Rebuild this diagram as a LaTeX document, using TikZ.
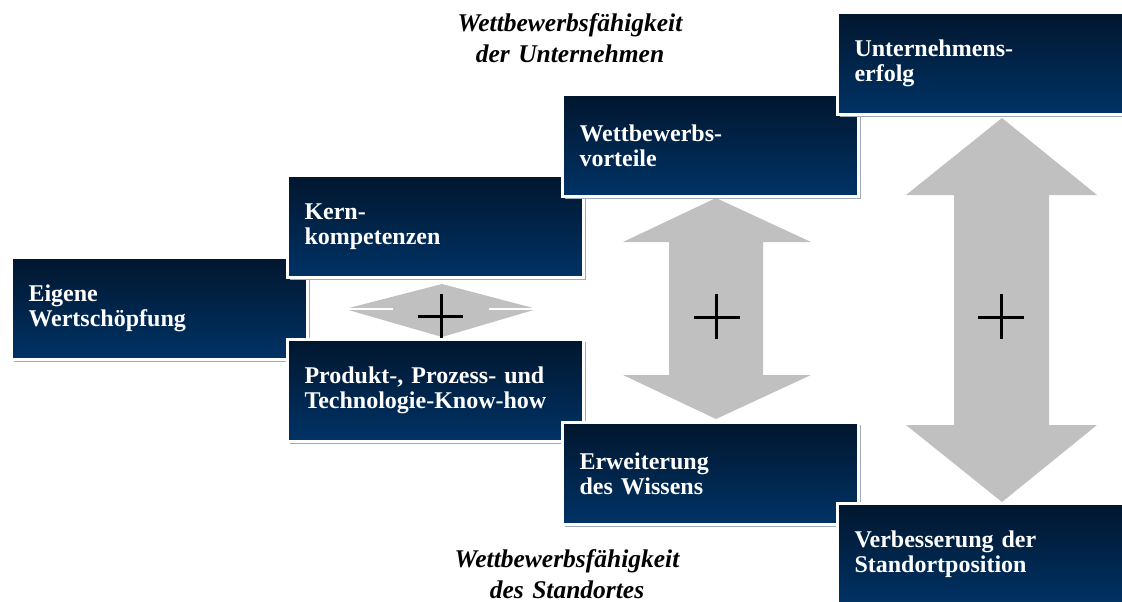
\documentclass[tikz,border=0pt]{standalone}
\usepackage{fontspec}
\setmainfont{Liberation Serif}
\usetikzlibrary{shadows}
\definecolor{navytop}{RGB}{1,22,46}
\definecolor{navybot}{RGB}{0,51,102}
\definecolor{edgegray}{RGB}{160,170,185}
\definecolor{arrowgray}{RGB}{192,192,192}
\begin{document}
\begin{tikzpicture}[x=1pt,y=-1pt,
  box/.style={rectangle, anchor=north west,
    minimum width=296pt, minimum height=102pt, text width=262pt,
    inner xsep=17pt, inner ysep=0pt,
    top color=navytop, bottom color=navybot,
    draw=white, line width=3pt,
    general shadow={fill=edgegray, shadow xshift=2.8pt, shadow yshift=-2.8pt},
    text=white, align=left,
    font=\fontsize{24}{25}\selectfont\bfseries},
  title/.style={anchor=base, text width=320pt, align=center, inner sep=0pt,
    font=\fontsize{25.5}{31}\selectfont\bfseries\itshape},
  bigarrow/.style={fill=arrowgray, draw=none},
  plus/.style={line width=3pt, black}]
  % canvas
  \fill[white] (0,0) rectangle (1122,602);
  \useasboundingbox (0,0) rectangle (1122,602);

  % block arrows with plus signs
  \fill[bigarrow] (345,309) -- (442,284) -- (537,309) -- (442,337) -- cycle;
  \draw[white, line width=2pt] (345,309) -- (393,309) (489,309) -- (537,309);
  \draw[plus] (418,316) -- (463,316) (441,294) -- (441,338);

  \fill[bigarrow] (716,198) -- (811,242) -- (763,242) -- (763,375) -- (811,375)
    -- (716,419) -- (623,375) -- (669,375) -- (669,242) -- (623,242) -- cycle;
  \draw[plus] (694,317) -- (740,317) (716,294) -- (716,339);

  \fill[bigarrow] (1002,118) -- (1097,195) -- (1049,195) -- (1049,425) -- (1097,425)
    -- (1002,502) -- (906,425) -- (954,425) -- (954,195) -- (906,195) -- cycle;
  \draw[plus] (978,317) -- (1024,317) (1001,294) -- (1001,339);

  % boxes, later ones overlapping earlier ones
  \node[box] (eigen) at (10,256) {Eigene\\Wertschöpfung};
  \node[box] (kern) at (286,174) {Kern-\\kompetenzen};
  \node[box] (knowhow) at (286,338) {Produkt-, Prozess- und\\Technologie-Know-how};
  \node[box] (vorteile) at (561,93) {Wettbewerbs-\\vorteile};
  \node[box] (wissen) at (561,421) {Erweiterung\\des Wissens};
  \node[box] (erfolg) at (836,11) {Unternehmens-\\erfolg};
  \node[box] (standort) at (836,502) {Verbesserung der\\Standortposition};

  % headings
  \node[title] (tunt) at (570,32) {Wettbewerbsfähigkeit\\der Unternehmen};
  \node[title] (tstand) at (567,567) {Wettbewerbsfähigkeit\\des Standortes};
\end{tikzpicture}
\end{document}
